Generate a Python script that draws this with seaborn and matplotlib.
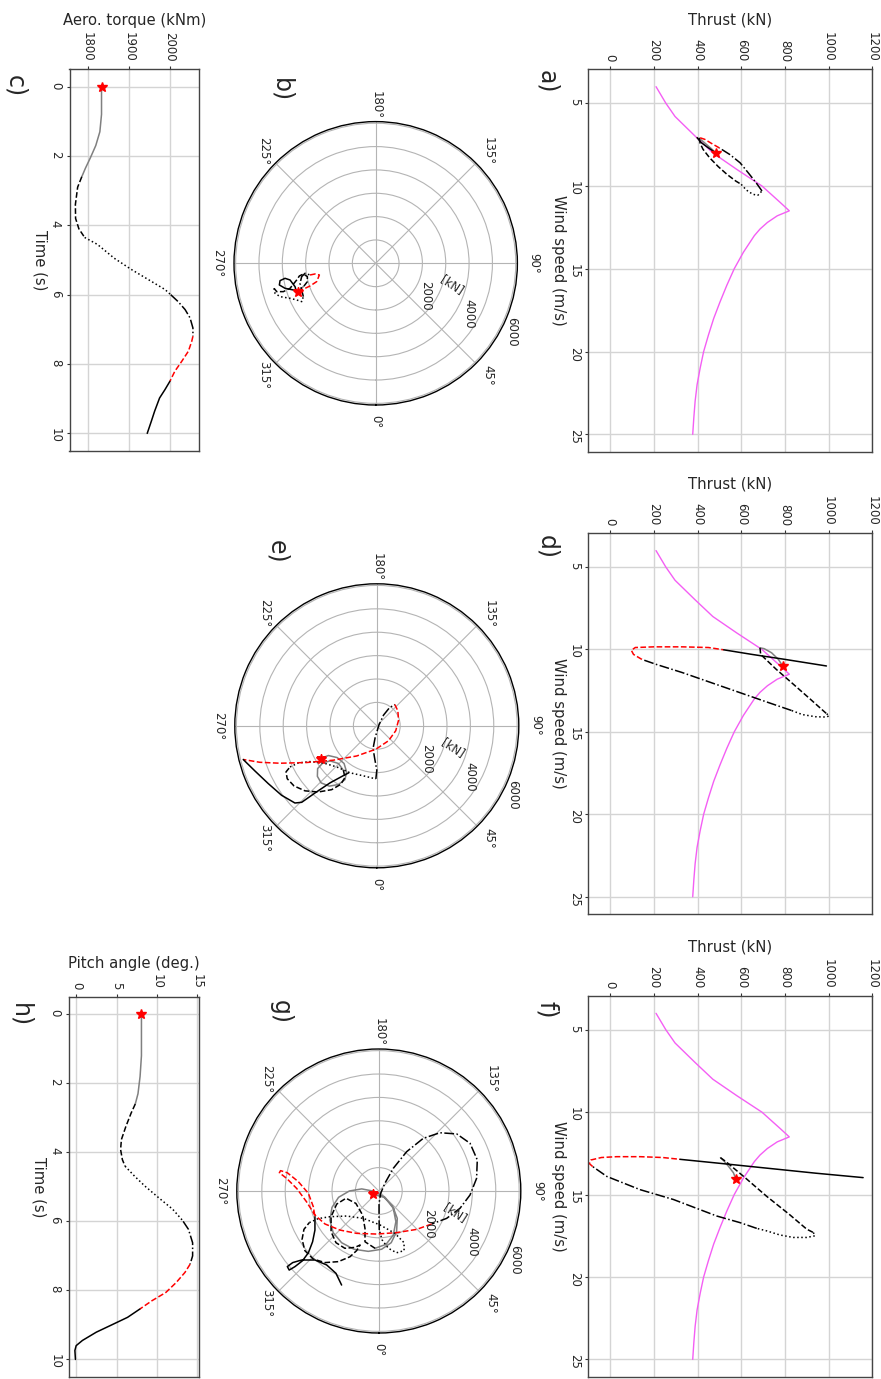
import numpy as np
import matplotlib
matplotlib.use("Agg")
import matplotlib.pyplot as plt
import seaborn as sns

# ------------------------------------------------------------------ data
# phase styles (t: 0-2.6 s, 2.6-4.35, 4.35-6.0, 6.0-7.2, 7.2-8.5, 8.5-10)
phase_colors = ["#808080", "black", "black", "black", "red", "black"]
phase_styles = ["-", "--", ":", "-.", "--", "-"]

# steady-state thrust curve
pink_wind = [4, 5, 5.8, 7, 8, 9, 10, 10.5, 11, 11.5, 11.8, 12.2, 12.6, 13, 14, 15,
             16, 17, 18, 19, 20, 21, 22, 23, 24, 25]
pink_thrust = [210, 255, 297, 390, 470, 580, 695, 737, 779, 820, 765, 720, 686, 660,
               610, 568, 534, 503, 474, 450, 428, 412, 398, 389, 383, 378]

# panel a : wind speed / thrust per phase
a_wind = [[7.99, 7.74, 7.48, 7.22, 7.10],
          [7.10, 7.42, 7.78, 8.29, 8.83, 9.30, 9.70, 9.90],
          [9.90, 10.24, 10.50, 10.56, 10.30],
          [10.30, 9.80, 9.20, 8.60, 8.10, 7.70],
          [7.70, 7.42, 7.18, 7.08, 7.08],
          [7.08, 7.38, 7.68, 7.95]]
a_thrust = [[483, 463, 440, 417, 407],
            [407, 412, 425, 455, 495, 535, 575, 600],
            [600, 623, 653, 676, 695],
            [695, 668, 632, 595, 548, 500],
            [500, 463, 433, 410, 398],
            [398, 417, 448, 478]]

# panel d
d_wind = [[11.0, 10.6, 10.2, 9.95, 9.9],
          [9.9, 10.3, 11.2, 12.1, 13.0, 13.9],
          [13.9, 14.02, 14.1, 14.08, 13.95, 13.7],
          [13.7, 13.2, 12.6, 12.0, 11.4, 10.9, 10.6],
          [10.6, 10.3, 10.05, 9.88, 9.84, 9.84, 9.88, 10.02],
          [10.02, 10.3, 10.6, 11.0]]
d_thrust = [[790, 770, 739, 705, 686],
            [686, 689, 760, 838, 915, 991],
            [991, 1003, 990, 940, 880, 830],
            [830, 720, 590, 460, 330, 210, 145],
            [145, 107, 97, 115, 200, 330, 450, 520],
            [520, 650, 800, 990]]

# panel f
f_wind = [[14.03, 13.67, 13.27, 12.95, 12.76],
          [12.76, 13.0, 14.0, 15.1, 16.2, 17.1, 17.3],
          [17.3, 17.5, 17.6, 17.6, 17.45, 17.2, 17.05],
          [17.05, 16.7, 16.3, 15.3, 14.7, 13.9, 13.3],
          [13.3, 13.12, 12.9, 12.75, 12.7, 12.7, 12.75, 12.86],
          [12.86, 13.1, 13.4, 13.7, 13.97]]
f_thrust = [[575, 564, 541, 520, 505],
            [505, 530, 620, 716, 820, 900, 930],
            [930, 938, 900, 838, 777, 716, 671],
            [671, 594, 488, 290, 137, -15, -80],
            [-80, -95, -88, -40, 30, 137, 240, 320],
            [320, 500, 720, 940, 1158]]

# panel c : aerodynamic torque time series
c_time = [[0, 0.8, 1.3, 1.7, 2.05, 2.35, 2.6],
          [2.6, 2.9, 3.4, 3.8, 4.1, 4.35],
          [4.35, 4.55, 4.95, 5.27, 5.56, 5.85, 6.0],
          [6.0, 6.2, 6.43, 6.67, 6.96, 7.2],
          [7.2, 7.35, 7.63, 7.92, 8.21, 8.5],
          [8.5, 8.74, 8.98, 9.36, 9.65, 10.0]]
c_torque = [[1834, 1834, 1830, 1820, 1807, 1795, 1786],
            [1786, 1776, 1770.5, 1771, 1779, 1793],
            [1793, 1824, 1865, 1906, 1947, 1988, 2002],
            [2002, 2020, 2037, 2049, 2056, 2056],
            [2056, 2053, 2045, 2029, 2012, 2000],
            [2000, 1988, 1975, 1963, 1955, 1945]]

# panel h : pitch angle time series
h_time = [[0, 1.2, 1.8, 2.3, 2.6],
          [2.6, 2.87, 3.25, 3.63, 3.92, 4.21, 4.4],
          [4.4, 4.69, 4.98, 5.32, 5.65, 5.94, 6.0],
          [6.0, 6.23, 6.62, 7.0, 7.24],
          [7.24, 7.48, 7.77, 8.06, 8.3, 8.54],
          [8.54, 8.78, 9.02, 9.21, 9.45, 9.6, 9.74, 10.0]]
h_pitch = [[8.1, 8.1, 7.93, 7.67, 7.33],
           [7.33, 6.8, 6.16, 5.6, 5.5, 5.72, 6.05],
           [6.05, 7.24, 8.54, 10.27, 12.0, 13.1, 13.3],
           [13.3, 13.96, 14.48, 14.48, 14.17],
           [14.17, 13.52, 12.44, 11.14, 9.4, 7.9],
           [7.9, 6.37, 4.2, 2.47, 0.74, -0.04, -0.2, -0.13]]

# polar panels: force components (kN) along the 90 deg and 0 deg directions
b_f90 = [[-3342, -3213, -3070],
         [-3070, -2927, -2927, -3099, -3270, -3384, -3670, -3956, -4241, -4355],
         [-4355, -4313, -4098, -3670, -3384, -3170, -3099],
         [-3099, -3170, -3242, -3170, -3027, -2813],
         [-2813, -2599, -2413, -2528, -2813, -3170, -3384],
         [-3384, -3456, -3670, -3884, -4098, -4127, -3884, -3527]]
b_f0 = [[1214, 1100, 971],
        [971, 785, 571, 457, 543, 714, 1071, 1214, 1214, 1071],
        [1071, 1285, 1428, 1499, 1571, 1642, 1428],
        [1428, 1142, 857, 571, 428, 500],
        [500, 457, 500, 785, 971, 1142, 1257],
        [1257, 1000, 714, 643, 743, 928, 1071, 1142]]

e_f90 = [[-2400, -2070, -1690, -1400, -1290, -1360, -1640, -2030, -2380, -2540, -2530,
          -2310, -2000, -1640, -1430],
         [-1430, -1360, -1540, -1930, -2500, -3070, -3540, -3830, -3880, -3710],
         [-3710, -3360, -2860, -2280, -1710, -1140, -570, -40],
         [-40, 0, -90, -160, -70, 90, 290, 540, 770],
         [770, 900, 930, 810, 500, -40, -860, -1860, -3000, -4140, -5000, -5710],
         [-5710, -5210, -4640, -4070, -3500, -3210, -2640, -2000, -1430, -1200]]
e_f0 = [[1400, 1270, 1360, 1610, 1970, 2300, 2510, 2580, 2440, 2160, 1830, 1590, 1500,
         1610, 1900],
        [1900, 2210, 2500, 2730, 2830, 2780, 2570, 2260, 1970, 1760],
        [1760, 1590, 1530, 1590, 1760, 2010, 2140, 2270],
        [2270, 1900, 1400, 970, 500, -30, -460, -770, -910],
        [-910, -640, -240, 210, 640, 1000, 1290, 1470, 1570, 1600, 1560, 1440],
        [1440, 1930, 2470, 2970, 3300, 3270, 2870, 2440, 2130, 2010]]

g_f90 = [[-240, 220, 590, 790, 760, 530, 120, -450, -1060, -1590, -1950, -2090, -2000,
          -1720, -1260, -730, -210, 260, 620, 730, 620, 310, -160],
         [-160, -590, -590, -690, -980, -1400, -1800, -2040, -2040, -1830, -1450, -1020,
          -800, -950, -1230, -1730, -2300, -2800, -3160, -3280, -3200, -2970],
         [-2970, -2590, -2090, -1380, -660, 50, 690, 1080, 1080, 760, 410, 140, 20],
         [20, 10, 10, 80, 260, 620, 1190, 1900, 2610, 3330, 3900, 4210, 4180, 3900,
          3470, 2900, 2260],
         [2260, 1620, 760, -90, -950, -1660, -2300, -2730, -3090, -3510, -3940, -4250,
          -4200, -3910, -3440, -3010, -2800, -2730],
         [-2730, -2730, -2830, -3010, -3260, -3580, -3830, -3910, -3680, -3300, -2730,
          -2230, -1830, -1590]]
g_f0 = [[140, 270, 640, 1170, 1740, 2210, 2490, 2580, 2490, 2210, 1780, 1240, 700, 270,
         0, -90, 10, 270, 740, 1310, 1880, 2280, 2450],
        [2450, 2170, 1600, 1030, 530, 310, 560, 1100, 1740, 2210, 2450, 2410, 2310, 2550,
         2810, 3020, 3060, 2910, 2550, 2070, 1640, 1350],
        [1350, 1180, 1100, 1070, 1170, 1450, 1810, 2210, 2550, 2640, 2450, 2090, 1670],
        [1670, 1100, 530, 100, -330, -970, -1680, -2250, -2490, -2440, -2040, -1330,
         -540, 170, 740, 1170, 1410],
        [1410, 1640, 1780, 1840, 1810, 1670, 1410, 1030, 460, -110, -540, -780, -870,
         -780, -400, 100, 670, 1100],
        [1100, 1670, 2170, 2640, 2980, 3230, 3380, 3230, 3060, 2950, 2950, 3160, 3520,
         4020]]

# ------------------------------------------------------------------ style
sns.set_theme(style="ticks")
plt.rcParams["font.family"] = ["DejaVu Sans"]
plt.rcParams["axes.edgecolor"] = "#444444"
plt.rcParams["axes.linewidth"] = 1.0

W, H = 881, 1379
fig = plt.figure(figsize=(W / 100, H / 100), dpi=100)

TICK_FS = 8.5
LABEL_FS = 10.7
PINK = "#f45ef4"
LW = 1.1


def rect_px(x0, y0, x1, y1):
    return [x0 / W, 1 - y1 / H, (x1 - x0) / W, (y1 - y0) / H]


def style_cartesian(ax, xlabel, ylabel):
    ax.xaxis.tick_top()
    ax.xaxis.set_label_position("top")
    ax.tick_params(axis="both", labelsize=TICK_FS, labelrotation=-90, length=2.5,
                   width=0.8, pad=3, color="#333333", direction="out")
    ax.grid(True, color="#d4d4d4", lw=1.0)
    ax.set_axisbelow(True)
    ax.set_xlabel(xlabel, fontsize=LABEL_FS, labelpad=5)
    ax.set_ylabel(ylabel, fontsize=LABEL_FS, rotation=-90, va="top", labelpad=1)
    for s in ax.spines.values():
        s.set_visible(True)


def draw_segments(ax, xs, ys):
    for i, (xv, yv) in enumerate(zip(xs, ys)):
        sns.lineplot(x=np.asarray(xv, float), y=np.asarray(yv, float), sort=False,
                     estimator=None, color=phase_colors[i], linestyle=phase_styles[i],
                     lw=LW, ax=ax)


def thrust_panel(rect, wind, thrust):
    ax = fig.add_axes(rect_px(*rect))
    sns.lineplot(x=np.asarray(pink_thrust, float), y=np.asarray(pink_wind, float),
                 sort=False, estimator=None, color=PINK, lw=1.0, ax=ax)
    draw_segments(ax, thrust, wind)
    ax.plot(thrust[0][0], wind[0][0], marker="*", color="red", ms=7, ls="none")
    ax.set_xlim(-100, 1200)
    ax.set_ylim(26.05, 2.95)
    ax.set_xticks([0, 200, 400, 600, 800, 1000, 1200])
    ax.set_yticks([5, 10, 15, 20, 25])
    style_cartesian(ax, "Thrust (kN)", "Wind speed (m/s)")
    return ax


def time_panel(rect, time, val, xlabel, xticks):
    ax = fig.add_axes(rect_px(*rect))
    draw_segments(ax, val, time)
    ax.plot(val[0][0], time[0][0], marker="*", color="red", ms=7, ls="none")
    ax.margins(0.05)
    ax.autoscale()
    ax.invert_yaxis()
    ax.set_xticks(xticks)
    ax.set_yticks([0, 2, 4, 6, 8, 10])
    style_cartesian(ax, xlabel, "Time (s)")
    return ax


def polar_panel(cx, cy, rad, f90, f0):
    ax = fig.add_axes(rect_px(cx - rad, cy - rad, cx + rad, cy + rad), projection="polar")
    ax.set_theta_zero_location("S")
    ax.set_theta_direction(1)
    th_all, r_all = [], []
    for a, b in zip(f90, f0):
        a = np.asarray(a, float)
        b = np.asarray(b, float)
        th_all.append(np.arctan2(a, b))
        r_all.append(np.hypot(a, b))
    draw_segments(ax, th_all, r_all)
    ax.plot(th_all[0][0], r_all[0][0], marker="*", color="red", ms=7, ls="none")
    ax.set_rlim(0, 6070)
    ax.set_rticks([1000, 2000, 3000, 4000, 5000, 6000])
    ax.set_yticklabels([])
    ax.set_thetagrids(np.arange(0, 360, 45))
    ax.tick_params(axis="x", labelrotation=-90, labelsize=TICK_FS, length=0, pad=5)
    ax.tick_params(axis="y", length=0)
    ax.grid(True, color="#b4b4b4", lw=0.8)
    ax.spines["polar"].set_color("black")
    ax.spines["polar"].set_linewidth(1.0)
    for rv in (2000, 4000, 6000):
        ax.text(np.radians(67.5), rv, str(rv), rotation=-90, rotation_mode="anchor",
                ha="left", va="bottom", fontsize=TICK_FS)
    ax.text(np.radians(74), 3390, "[kN]", rotation=-33, rotation_mode="anchor",
            ha="center", va="center", fontsize=TICK_FS)
    ax.set_xlabel("")
    ax.set_ylabel("")
    return ax


thrust_panel((588.3, 69.3, 872.3, 451.7), a_wind, a_thrust)
thrust_panel((588.3, 533.3, 872.3, 914.0), d_wind, d_thrust)
thrust_panel((588.3, 996.0, 872.3, 1376.7), f_wind, f_thrust)

time_panel((69.5, 69.3, 198.8, 450.7), c_time, c_torque, "Aero. torque (kNm)",
           [1800, 1900, 2000])
time_panel((69.0, 997.0, 198.5, 1376.7), h_time, h_pitch, "Pitch angle (deg.)",
           [0, 5, 10, 15])

polar_panel(375.7, 263.3, 141.7, b_f90, b_f0)
polar_panel(376.8, 725.8, 142.0, e_f90, e_f0)
polar_panel(378.8, 1191.0, 142.0, g_f90, g_f0)

# panel letters
letters = [("a)", 547, 82), ("b)", 281, 90), ("c)", 15, 86),
           ("d)", 547, 547), ("e)", 277, 552), ("f)", 547, 1010),
           ("g)", 281, 1012), ("h)", 20, 1015)]
for txt, x, y in letters:
    fig.text(x / W, 1 - y / H, txt, rotation=-90, ha="center", va="center", fontsize=17)

fig.savefig("out.png", dpi=100)
